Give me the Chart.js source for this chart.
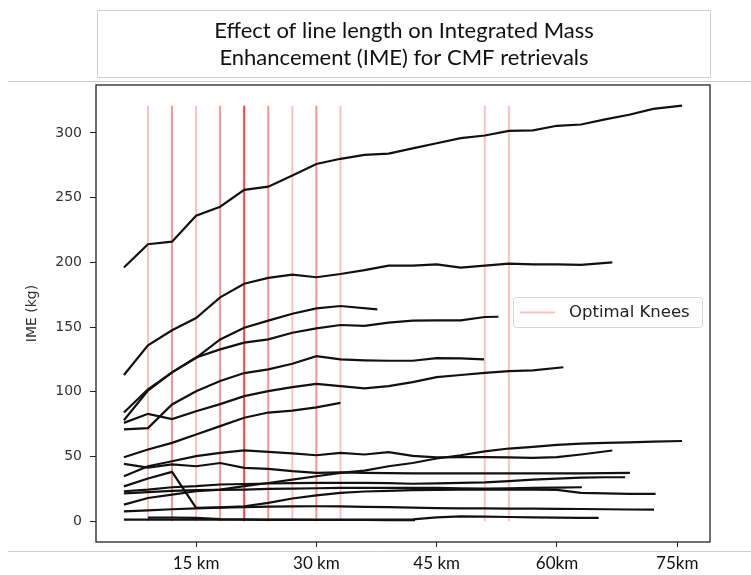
<!DOCTYPE html>
<html>
<head>
<meta charset="utf-8">
<script src="https://cdn.jsdelivr.net/npm/chart.js@4.4.0/dist/chart.umd.min.js"></script>
<style>
  html, body { margin: 0; padding: 0; background: #fff; }
  #wrap { width: 751px; height: 575px; }
</style>
</head>
<body>
<div id="wrap"><canvas id="chart" width="751" height="575"></canvas></div>
<script>
// line length grid (km) shared by every curve
const km = [6, 9, 12, 15, 18, 21, 24, 27, 30, 33, 36, 39, 42, 45, 48, 51, 54, 57, 60, 63, 66, 69, 72, 75];

// IME (kg) per plume
const ime01 = [196, 214, 216, 236, 243, 256, 258.5, 267, 276, 280, 283, 284, 288, 292, 296, 298, 301.5, 302, 305.5, 306.5, 310.5, 314, 318.5, 321];
const ime02 = [113, 136, 147.5, 157, 173, 183.5, 188, 190.5, 188.5, 191, 194, 197.5, 197.5, 198.5, 196, 197.5, 199, 198.5, 198.5, 198, 200];
const ime03 = [84, 102, 115, 126.3, 140.5, 149.5, 155, 160.3, 164.5, 166.3, 163.7];
const ime04 = [78, 101, 115, 126.5, 132.8, 138, 140.5, 145.6, 149, 151.6, 151, 153.4, 155, 155.2, 155.2, 157.8, 158];
const ime05 = [71, 72, 90.2, 100.5, 108.3, 114.5, 117.3, 121.7, 127.6, 125, 124.3, 124, 124, 126, 125.8, 125];
const ime06 = [76, 83, 79, 85, 90.5, 96.7, 100.5, 103.6, 106.2, 104.4, 102.6, 104.4, 107.5, 111.4, 113, 114.7, 116, 116.5, 119];
const ime07 = [49.5, 55.4, 60.6, 67, 73.5, 80, 84, 85.5, 88, 91.5];
const ime08 = [34.8, 42.5, 46.4, 50.3, 52.8, 54.7, 53.6, 52.4, 51, 52.8, 51.6, 53.4, 50.5, 49.3, 49.5, 49.5, 49.3, 49, 49.5, 51.6, 54.7];
const ime09 = [44.3, 41.5, 44, 42.5, 45, 41.2, 40.5, 38.7, 37.4, 37.8, 37.4, 37.2, 37, 37, 37, 37, 37, 37, 37, 37, 37.2, 37.4];
const ime10 = [12.9, 18, 20.6, 23.2, 24.5, 27.1, 29.6, 32.2, 34.8, 37.4, 39.2, 42.5, 45, 48.5, 51, 54, 56.2, 57.5, 59, 60, 60.6, 61, 61.5, 62];
const ime11 = [23.2, 24.5, 26.3, 27.1, 28.4, 28.8, 29.2, 29.5, 29.6, 29.6, 29.6, 29.5, 29, 29.3, 29.6, 30, 31, 32.2, 33, 33.8, 34, 34];
const ime12 = [21.5, 22.5, 23.5, 24, 24.3, 24.5, 25, 25.3, 25.5, 25.8, 25.8, 25.8, 25.8, 25.8, 25.5, 25.3, 25.5, 25.8, 26, 26.3];
const ime13 = [27, 33, 38.2, 10.3, 10.8, 11.6, 14.2, 17.6, 20, 22, 23, 23.5, 24, 24.2, 24.4, 24.5, 24.5, 24.5, 24.3, 22, 21.5, 21.2, 21.1];
const ime14 = [7.7, 8.5, 9.3, 10, 10.5, 11, 11.3, 11.5, 11.6, 11.5, 11.2, 11, 10.5, 10.2, 10, 9.9, 9.8, 9.8, 9.6, 9.5, 9.3, 9.1, 9];
const ime15 = [1.3, 1.3, 1.2, 1.2, 1.2, 1.2, 1.1, 1.1, 1, 1, 1, 0.9, 0.9];
const ime16 = [null, 2.8, 2.8, 2.7, 1.6, 1.4, 1.3, 1.3, 1.3, 1.3, 1.3, 1.3, 1.5, 3, 3.8, 3.6, 3.3, 3, 2.8, 2.6, 2.6];

// where each curve really stops (km), replaces the last grid point
const endKm = [75.6, 66.9, 37.6, 52.7, 50.9, 60.8, 33, 66.9, 69.1, 75.6, 68.5, 63.1, 72.3, 72.1, 42.3, 65.2];

// optimal knees: position and how many plumes picked it
const kneeKm = [9, 12, 15, 18, 21, 24, 27, 30, 33, 51, 54];
const kneeCount = [1, 2, 1, 2, 5, 2, 1, 2, 1, 1, 1];
const kneeTop = 321;

const xTickKm = [15, 30, 45, 60, 75];
const xTickText = ['15 km', '30 km', '45 km', '60km', '75km'];
const yTicks = [0, 50, 100, 150, 200, 250, 300];

const series = [ime01, ime02, ime03, ime04, ime05, ime06, ime07, ime08,
                ime09, ime10, ime11, ime12, ime13, ime14, ime15, ime16];

let datasets = [];

series.forEach((vals, i) => {
    datasets.push({
        data: vals.map((v, j) => ({ x: j === vals.length - 1 ? endKm[i] : km[j], y: v })),
        borderColor: '#111',
        borderWidth: 2.2,
        pointRadius: 0,
        tension: 0,
        order: 1
    });
});

kneeKm.forEach((k, i) => {
    let alpha = 1 - Math.pow(0.75, kneeCount[i]);
    datasets.push({
        data: [{ x: k, y: 0 }, { x: k, y: kneeTop }],
        borderColor: `rgba(255,0,0,${alpha.toFixed(3)})`,
        borderWidth: 2,
        pointRadius: 0,
        order: 2
    });
});

// title box, separators, frame and legend like the composite
const decor = {
    id: 'decor',
    beforeDraw(chart) {
        const ctx = chart.ctx;
        ctx.save();
        ctx.fillStyle = '#fff';
        ctx.fillRect(0, 0, chart.width, chart.height);
        ctx.strokeStyle = '#cfcfcf';
        ctx.lineWidth = 1;
        ctx.strokeRect(97.5, 10.5, 613, 67);
        ctx.beginPath();
        ctx.moveTo(8, 81.5); ctx.lineTo(751, 81.5);
        ctx.moveTo(8, 551.5); ctx.lineTo(751, 551.5);
        ctx.stroke();
        ctx.fillStyle = '#111';
        ctx.font = '22px Lato';
        ctx.textAlign = 'center';
        ctx.textBaseline = 'middle';
        ctx.fillText('Effect of line length on Integrated Mass', 404, 31);
        ctx.fillText('Enhancement (IME) for CMF retrievals', 404, 58);
        ctx.restore();
    },
    afterDraw(chart) {
        const ctx = chart.ctx;
        const a = chart.chartArea;
        ctx.save();
        ctx.strokeStyle = '#222';
        ctx.lineWidth = 1.3;
        ctx.strokeRect(a.left, a.top, a.right - a.left, a.bottom - a.top);

        // legend
        ctx.fillStyle = 'rgba(255,255,255,0.8)';
        ctx.strokeStyle = '#d6d6d6';
        ctx.lineWidth = 1;
        ctx.beginPath();
        ctx.roundRect(513.5, 297.5, 189, 30, 3);
        ctx.fill();
        ctx.stroke();
        ctx.strokeStyle = 'rgba(255,0,0,0.25)';
        ctx.lineWidth = 2;
        ctx.beginPath();
        ctx.moveTo(520, 312.5); ctx.lineTo(555, 312.5);
        ctx.stroke();
        ctx.fillStyle = '#222';
        ctx.font = '16.5px "DejaVu Sans"';
        ctx.textAlign = 'left';
        ctx.textBaseline = 'middle';
        ctx.fillText('Optimal Knees', 569, 313);
        ctx.restore();
    }
};

new Chart(document.getElementById('chart'), {
    type: 'line',
    data: { datasets: datasets },
    plugins: [decor],
    options: {
        responsive: false,
        animation: false,
        devicePixelRatio: 1,
        layout: { padding: { top: 85, right: 41, left: 0, bottom: 0 } },
        plugins: { legend: { display: false }, tooltip: { enabled: false } },
        scales: {
            x: {
                type: 'linear',
                min: 2.52,
                max: 79.08,
                afterBuildTicks: (s) => { s.ticks = xTickKm.map(v => ({ value: v })); },
                afterFit: (s) => { s.height = 33; },
                border: { display: false },
                grid: { drawOnChartArea: false, drawTicks: true, tickLength: 5, color: '#222' },
                ticks: {
                    padding: 6,
                    color: '#111',
                    font: { family: 'Lato', size: 17 },
                    callback: (v) => xTickText[xTickKm.indexOf(v)]
                }
            },
            y: {
                min: -16,
                max: 337,
                afterBuildTicks: (s) => { s.ticks = yTicks.map(v => ({ value: v })); },
                afterFit: (s) => { s.width = 96; },
                border: { display: false },
                grid: { drawOnChartArea: false, drawTicks: true, tickLength: 6, color: '#222' },
                ticks: {
                    padding: 8,
                    color: '#333',
                    font: { family: 'DejaVu Sans', size: 14 }
                },
                title: {
                    display: true,
                    text: 'IME (kg)',
                    color: '#333',
                    font: { family: 'DejaVu Sans', size: 14 },
                    padding: { top: 24, bottom: 0 }
                }
            }
        }
    }
});
</script>
</body>
</html>
